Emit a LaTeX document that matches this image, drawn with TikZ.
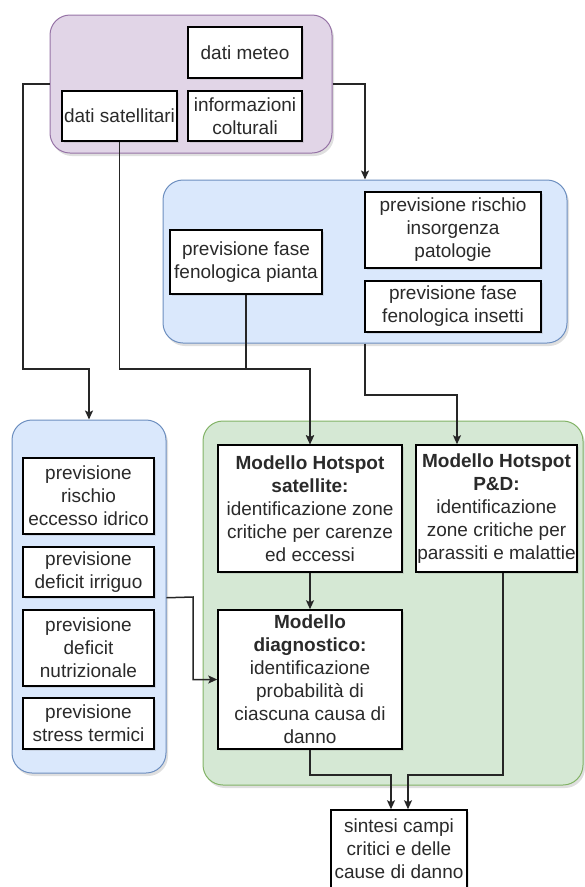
\documentclass[tikz,border=0pt]{standalone}
\usepackage{fontspec}
\setmainfont{Liberation Sans}
\usetikzlibrary{arrows.meta,shadows}
\definecolor{purfill}{HTML}{E1D5E7}
\definecolor{purline}{HTML}{9673A6}
\definecolor{blufill}{HTML}{DAE8FC}
\definecolor{bluline}{HTML}{6C8EBF}
\definecolor{grnfill}{HTML}{D5E8D4}
\definecolor{grnline}{HTML}{82B366}
\definecolor{txt}{HTML}{2A2A2A}
\begin{document}
\begin{tikzpicture}[x=1pt,y=-1pt,
  every node/.style={font=\fontsize{19}{23}\selectfont, text=txt},
  cont/.style={draw, line width=1pt, rounded corners=20pt, inner sep=0pt,
    drop shadow={opacity=0.25, shadow xshift=2pt, shadow yshift=-3pt}},
  box/.style={draw=black, fill=white, line width=1.5pt, inner sep=0pt, align=center,
    drop shadow={opacity=0.2, shadow xshift=2pt, shadow yshift=-2pt}},
  conn/.style={draw=black!85, line width=1.5pt},
  arr/.style={conn, -{Stealth[length=9pt,width=8pt,inset=2pt]}}
]
\useasboundingbox (0,0) rectangle (585,887);

% containers
\node[cont, fill=purfill, draw=purline, minimum width=282pt, minimum height=138pt] (purple) at (191,84) {};
\node[cont, fill=blufill, draw=bluline, minimum width=404pt, minimum height=163pt] (bluetop) at (365,261.5) {};
\node[cont, fill=blufill, draw=bluline, minimum width=154pt, minimum height=353pt] (blueleft) at (89,596.5) {};
\node[cont, fill=grnfill, draw=grnline, minimum width=380pt, minimum height=364pt] (green) at (393,603) {};

% boxes in purple
\node[box, minimum width=114pt, minimum height=51pt] (meteo) at (245,52.5) {dati meteo};
\node[box, minimum width=115pt, minimum height=50pt] (satellitari) at (119.5,116) {dati satellitari};
\node[box, minimum width=114pt, minimum height=50pt] (colturali) at (245,116) {informazioni\\colturali};

% boxes in top blue
\node[box, minimum width=152pt, minimum height=64pt] (pianta) at (246,262) {previsione fase\\fenologica pianta};
\node[box, minimum width=176pt, minimum height=76pt] (patologie) at (453,230) {previsione rischio\\insorgenza\\patologie};
\node[box, minimum width=176pt, minimum height=51pt] (insetti) at (453,306.5) {previsione fase\\fenologica insetti};

% boxes in left blue
\node[box, minimum width=131pt, minimum height=76pt] (eccesso) at (88.5,496) {previsione\\rischio\\eccesso idrico};
\node[box, minimum width=131pt, minimum height=50pt] (irriguo) at (88.5,572) {previsione\\deficit irriguo};
\node[box, minimum width=131pt, minimum height=76pt] (nutri) at (88.5,648) {previsione\\deficit\\nutrizionale};
\node[box, minimum width=131pt, minimum height=51pt] (termici) at (88.5,723.5) {previsione\\stress termici};

% boxes in green
\node[box, minimum width=184pt, minimum height=127pt] (satellite) at (310,508.5)
  {\textbf{Modello Hotspot}\\\textbf{satellite:}\\identificazione zone\\critiche per carenze\\ed eccessi};
\node[box, minimum width=161pt, minimum height=127pt] (pd) at (496.5,508.5)
  {\textbf{Modello Hotspot}\\\textbf{P\&D:}\\identificazione\\zone critiche per\\parassiti e malattie};
\node[box, minimum width=184pt, minimum height=139pt] (diag) at (310,679.5)
  {\textbf{Modello}\\\textbf{diagnostico:}\\identificazione\\probabilità di\\ciascuna causa di\\danno};

% output box
\node[box, minimum width=136pt, minimum height=78pt] (sintesi) at (399,849)
  {sintesi campi\\critici e delle\\cause di danno};

% waypoints
\coordinate (w1) at (23,84);
\coordinate (j1) at (310,369);
\coordinate (pdin) at (457,395);
\coordinate (w6) at (193,597);
\coordinate (s1) at (391,775);
\coordinate (pdo) at (503,775);
\coordinate (s2) at (408,775);

% connectors
\draw[arr] (purple.west) -- (w1) |- (89,369) -- (blueleft.north);
\draw[arr] (purple.east) -| (bluetop.north);
\draw[arr] (satellitari.south) |- (j1) -- (satellite.north);
\draw[arr] (pianta.south) |- (j1) -- (satellite.north);
\draw[arr] (bluetop.south) |- (pdin) -- (pd.north -| pdin);
\draw[arr] (blueleft.east |- irriguo.south) -- (w6) |- (diag.west);
\draw[arr] (satellite.south) -- (diag.north);
\draw[arr] (diag.south) |- (s1) -- (sintesi.north -| s1);
\draw[arr] (pd.south -| pdo) -- (pdo) -- (s2) -- (sintesi.north -| s2);
\end{tikzpicture}
\end{document}
